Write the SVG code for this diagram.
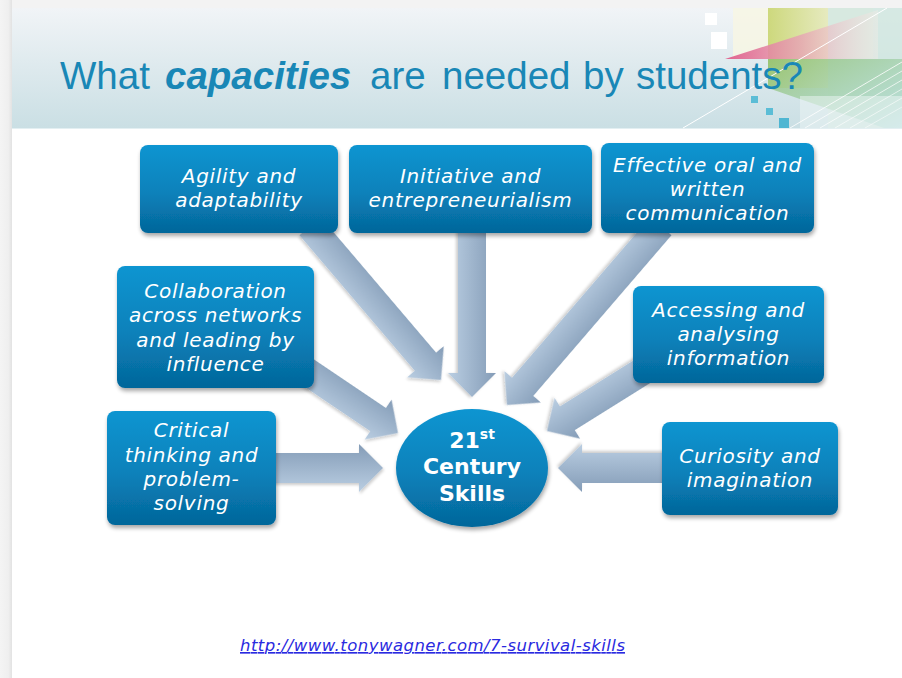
<svg xmlns="http://www.w3.org/2000/svg" width="902" height="678" viewBox="0 0 902 678">
<defs>
<style>
.bt{fill:#fff;font-family:"DejaVu Sans",sans-serif;font-style:oblique;font-size:20px;letter-spacing:0.7px;text-anchor:middle}
.ct{fill:#fff;font-family:"DejaVu Sans",sans-serif;font-weight:bold;font-size:22px;text-anchor:middle}
.title{fill:#1987b6;font-family:"Liberation Sans",Arial,sans-serif;font-size:38.5px}
.box{fill:url(#boxg);filter:url(#sh)}
.arr{fill:url(#arrg);filter:url(#ash)}
.wl{stroke:#fff;stroke-width:1;fill:none}
</style>
<linearGradient id="bg" x1="0" y1="0" x2="0" y2="1">
<stop offset="0" stop-color="#f1f4f7"/><stop offset="1" stop-color="#cadfe4"/>
</linearGradient>
<linearGradient id="edge" x1="0" y1="0" x2="1" y2="0">
<stop offset="0" stop-color="#f4f4f4"/><stop offset="0.7" stop-color="#efefef"/><stop offset="1" stop-color="#e2e2e2"/>
</linearGradient>
<linearGradient id="boxg" x1="0" y1="0" x2="0" y2="1">
<stop offset="0" stop-color="#0e95d1"/><stop offset="0.55" stop-color="#0a81ba"/><stop offset="1" stop-color="#04669a"/>
</linearGradient>
<linearGradient id="arrg" gradientUnits="userSpaceOnUse" x1="0" y1="-24" x2="0" y2="24">
<stop offset="0" stop-color="#849cb7"/><stop offset="1" stop-color="#bacee2"/>
</linearGradient>
<linearGradient id="pink" x1="0" y1="0" x2="1" y2="0">
<stop offset="0" stop-color="#e0628f"/><stop offset="0.5" stop-color="#e7a3b4" stop-opacity="0.8"/><stop offset="1" stop-color="#f3ece6" stop-opacity="0.4"/>
</linearGradient>
<linearGradient id="yg" x1="0" y1="0" x2="1" y2="0">
<stop offset="0" stop-color="#c6d36a"/><stop offset="1" stop-color="#e3e8b8"/>
</linearGradient>
<linearGradient id="grn" x1="0" y1="0" x2="1" y2="1">
<stop offset="0" stop-color="#8fc070"/><stop offset="0.6" stop-color="#a8d4b8"/><stop offset="1" stop-color="#b8dfe0"/>
</linearGradient>
<filter id="sh" x="-10%" y="-10%" width="125%" height="135%">
<feGaussianBlur in="SourceAlpha" stdDeviation="2"/><feOffset dx="1" dy="2.5"/>
<feComponentTransfer><feFuncA type="linear" slope="0.35"/></feComponentTransfer>
<feMerge><feMergeNode/><feMergeNode in="SourceGraphic"/></feMerge>
</filter>
<filter id="ash" x="-20%" y="-20%" width="140%" height="140%">
<feGaussianBlur in="SourceAlpha" stdDeviation="1.5"/><feOffset dx="1" dy="2"/>
<feComponentTransfer><feFuncA type="linear" slope="0.2"/></feComponentTransfer>
<feMerge><feMergeNode/><feMergeNode in="SourceGraphic"/></feMerge>
</filter>
</defs>

<g id="background">
<rect x="0" y="0" width="902" height="678" fill="#f3f3f3"/>
<rect x="0" y="0" width="12" height="678" fill="url(#edge)"/>
<rect x="12" y="8" width="890" height="670" fill="#fff"/>
<rect x="12" y="8" width="890" height="120" fill="url(#bg)"/>
<line x1="12" y1="128.5" x2="902" y2="128.5" stroke="#e3eff2" stroke-width="1"/>
<rect x="733" y="8" width="140" height="50" fill="#f7f6e4" opacity="0.85"/>
<rect x="828" y="8" width="74" height="120" fill="#cfe6df" opacity="0.8"/>
<rect x="768" y="8" width="60" height="80" fill="url(#yg)" opacity="0.85"/>
<polygon points="768,59 902,59 902,128 884,128 768,88" fill="url(#grn)" opacity="0.8"/>
<polygon points="725,59 878,10 878,59" fill="url(#pink)"/>
<rect x="800" y="96" width="102" height="32" fill="#eef5f5" opacity="0.5"/>
<line class="wl" x1="683" y1="128" x2="887" y2="8"/>
<line class="wl" x1="790" y1="128" x2="902" y2="62" opacity="0.8"/>
<line class="wl" x1="805" y1="128" x2="902" y2="71" opacity="0.7"/>
<line class="wl" x1="820" y1="128" x2="902" y2="80" opacity="0.7"/>
<line class="wl" x1="835" y1="128" x2="902" y2="89" opacity="0.6"/>
<line class="wl" x1="850" y1="128" x2="902" y2="98" opacity="0.6"/>
<line class="wl" x1="865" y1="128" x2="902" y2="107" opacity="0.5"/>
<rect x="705" y="13" width="12" height="12" fill="#fff"/>
<rect x="711" y="32" width="16" height="17" fill="#fff"/>
<rect x="751" y="96" width="7" height="7" fill="#5bbdd6"/>
<rect x="766" y="108" width="7" height="7" fill="#5bbdd6"/>
<rect x="779" y="118" width="10" height="10" fill="#4fb6d2"/>
</g>

<g id="title">
<text class="title" y="89"><tspan x="60">What</tspan><tspan x="165" font-weight="bold" font-style="italic">capacities</tspan><tspan x="370">are</tspan><tspan x="442">needed</tspan><tspan x="583">by</tspan><tspan x="636">students?</tspan></text>
</g>

<g id="connectors">
<path class="arr" transform="translate(441,380) rotate(49.6)" d="M0,0 L-24,-24 L-24,-14 L-202,-14 L-202,14 L-24,14 L-24,24 Z"/>
<path class="arr" transform="translate(472,397) rotate(90)" d="M0,0 L-24,-24 L-24,-14 L-170,-14 L-170,14 L-24,14 L-24,24 Z"/>
<path class="arr" transform="translate(507,405) rotate(130.7)" d="M0,0 L-24,-24 L-24,-14 L-236,-14 L-236,14 L-24,14 L-24,24 Z"/>
<path class="arr" transform="translate(398,433) rotate(34)" d="M0,0 L-24,-24 L-24,-14 L-120,-14 L-120,14 L-24,14 L-24,24 Z"/>
<path class="arr" transform="translate(547,431) rotate(148)" d="M0,0 L-24,-24 L-24,-14 L-122,-14 L-122,14 L-24,14 L-24,24 Z"/>
<path class="arr" transform="translate(383,468)" d="M0,0 L-24,-24 L-24,-15 L-120,-15 L-120,15 L-24,15 L-24,24 Z"/>
<path class="arr" transform="translate(558,468) rotate(180)" d="M0,0 L-24,-24 L-24,-15 L-115,-15 L-115,15 L-24,15 L-24,24 Z"/>
</g>

<g id="agility">
<rect class="box" x="140" y="145" width="198" height="88" rx="8"/>
<text class="bt" x="239" y="183">Agility and</text>
<text class="bt" x="239" y="207">adaptability</text>
</g>
<g id="initiative">
<rect class="box" x="349" y="145" width="243" height="88" rx="8"/>
<text class="bt" x="470.5" y="183">Initiative and</text>
<text class="bt" x="470.5" y="207">entrepreneurialism</text>
</g>
<g id="communication">
<rect class="box" x="601" y="143" width="213" height="90" rx="8"/>
<text class="bt" x="707.5" y="172">Effective oral and</text>
<text class="bt" x="707.5" y="196">written</text>
<text class="bt" x="707.5" y="220">communication</text>
</g>
<g id="collaboration">
<rect class="box" x="117" y="266" width="197" height="122" rx="8"/>
<text class="bt" x="215.5" y="298">Collaboration</text>
<text class="bt" x="215.5" y="322">across networks</text>
<text class="bt" x="215.5" y="347">and leading by</text>
<text class="bt" x="215.5" y="371">influence</text>
</g>
<g id="accessing">
<rect class="box" x="633" y="286" width="191" height="97" rx="8"/>
<text class="bt" x="728.5" y="317">Accessing and</text>
<text class="bt" x="728.5" y="341">analysing</text>
<text class="bt" x="728.5" y="365">information</text>
</g>
<g id="critical">
<rect class="box" x="107" y="411" width="169" height="114" rx="8"/>
<text class="bt" x="191.5" y="437">Critical</text>
<text class="bt" x="191.5" y="462">thinking and</text>
<text class="bt" x="191.5" y="486">problem-</text>
<text class="bt" x="191.5" y="510">solving</text>
</g>
<g id="curiosity">
<rect class="box" x="662" y="422" width="176" height="93" rx="8"/>
<text class="bt" x="750" y="463">Curiosity and</text>
<text class="bt" x="750" y="487">imagination</text>
</g>
<g id="center">
<ellipse cx="472" cy="468" rx="76" ry="59" fill="url(#boxg)" filter="url(#sh)"/>
<text class="ct" x="472" y="448"><tspan>21</tspan><tspan font-size="14" dy="-9">st</tspan></text>
<text class="ct" x="472" y="474">Century</text>
<text class="ct" x="472" y="501">Skills</text>
</g>

<g id="link">
<text x="240" y="651" fill="#2a2ae0" font-family="DejaVu Sans,sans-serif" font-style="oblique" font-size="16.5" textLength="385" lengthAdjust="spacing" text-decoration="underline">http://www.tonywagner.com/7-survival-skills</text>
</g>
</svg>
